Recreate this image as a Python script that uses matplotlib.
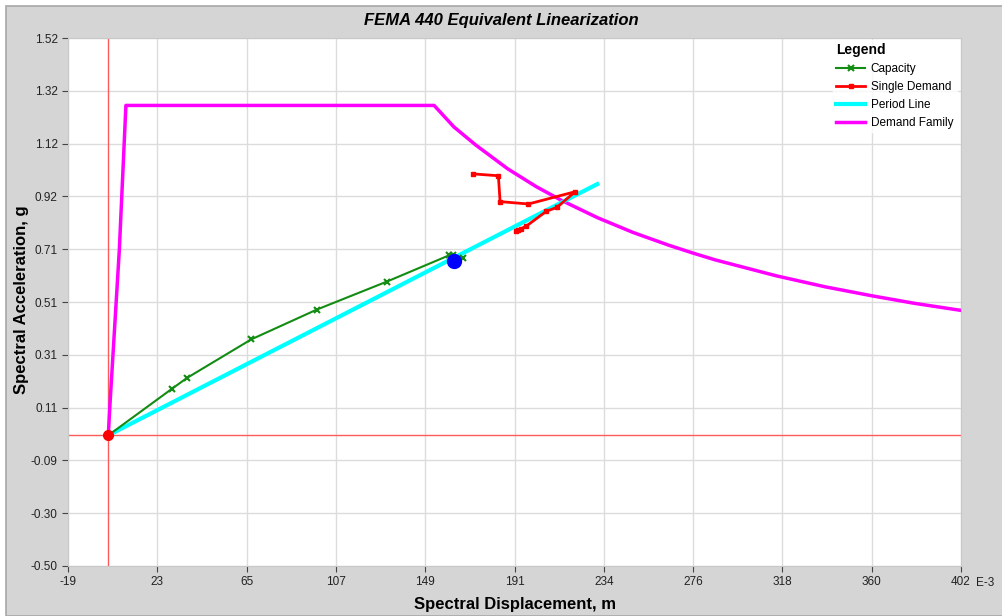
import numpy as np
import matplotlib
matplotlib.use("Agg")
import matplotlib.pyplot as plt
from matplotlib import font_manager
from matplotlib.patches import Rectangle

# ---- data (x in E-3 m, y in g) ----
capacity_x = [0.0, 30.0, 37.2, 67.4, 98.3, 131.3, 160.5, 162.5, 167.0]
capacity_y = [0.0, 0.178, 0.220, 0.367, 0.481, 0.588, 0.688, 0.690, 0.677]

demand_x = [172.1, 183.9, 184.7, 198.1, 220.1, 211.5, 206.5, 197.0, 192.0, 194.5, 193.0]
demand_y = [1.000, 0.993, 0.894, 0.885, 0.932, 0.872, 0.857, 0.800, 0.780, 0.790, 0.784]

period_x = [0.0, 230.5]
period_y = [0.0, 0.961]

family_x = [0.0, 0.8, 5.2, 8.3, 153.6, 162.9, 173.0, 188.2, 201.8, 213.6, 230.5,
            247.4, 264.3, 276.1, 286.2, 315.0, 338.0, 360.5, 380.0, 401.9]
family_y = [0.0, 0.12, 0.71, 1.262, 1.262, 1.180, 1.112, 1.020, 0.951, 0.899, 0.833,
            0.776, 0.727, 0.696, 0.671, 0.610, 0.568, 0.533, 0.505, 0.478]

perf_point = (162.9, 0.668)

x_ticklabels = ["-19", "23", "65", "107", "149", "191", "234", "276", "318", "360", "402"]
y_ticklabels = ["-0.50", "-0.30", "-0.09", "0.11", "0.31", "0.51", "0.71", "0.92", "1.12", "1.32", "1.52"]

names = {f.name for f in font_manager.fontManager.ttflist}
narrow = "Liberation Sans Narrow" if "Liberation Sans Narrow" in names else "Liberation Sans"
plt.rcParams["font.family"] = [narrow, "DejaVu Sans"]

fig = plt.figure(figsize=(10.02, 6.16), dpi=100, facecolor="white")
# grey panel with a thin white strip on the top / left
panel = Rectangle((6 / 1002, 0), 1, (616 - 6) / 616, transform=fig.transFigure,
                  facecolor="#d5d5d5", edgecolor="#a8a8a8", lw=1.2, zorder=-10)
fig.add_artist(panel)

ax = fig.add_axes([68 / 1002, 50 / 616, 893 / 1002, 528 / 616])
ax.set_zorder(1)
ax.set_facecolor("white")

ax.set_xlim(-19, 402)
ax.set_ylim(-0.5, 1.52)
ax.set_xticks(np.linspace(-19, 402, 11))
ax.set_xticklabels(x_ticklabels)
ax.set_yticks(np.linspace(-0.5, 1.52, 11))
ax.set_yticklabels(y_ticklabels, family="Liberation Sans")
ax.tick_params(labelsize=8.5, length=4, color="#444444", labelcolor="#222222")
ax.grid(True, color="#dcdcdc", lw=1)
ax.set_axisbelow(True)
for s in ax.spines.values():
    s.set_color("#c8c8c8")

# crosshair at origin
ax.axvline(0, color="#ff5a5a", lw=1, zorder=1)
ax.axhline(0, color="#ff5a5a", lw=1, zorder=1)

ax.plot(family_x, family_y, color="#ff00ff", lw=2.5, label="Demand Family", zorder=3)
ax.plot(period_x, period_y, color="#00ffff", lw=3, label="Period Line", zorder=3)
ax.plot(capacity_x, capacity_y, color="#128c12", lw=1.5, marker="x", ms=5,
        mew=1.5, label="Capacity", zorder=4)
ax.plot(demand_x, demand_y, color="#ff0000", lw=2, marker="s", ms=3.5,
        label="Single Demand", zorder=4)
ax.plot([0], [0], "o", color="#ff0000", ms=7, zorder=5)
ax.plot([perf_point[0]], [perf_point[1]], "o", color="#0000ff", ms=10, zorder=5)

handles, labels = ax.get_legend_handles_labels()
order = [2, 3, 1, 0]
leg = ax.legend([handles[i] for i in order], [labels[i] for i in order],
                title="Legend", loc="upper left", bbox_to_anchor=(0.85, 1.008),
                frameon=True, fancybox=False, edgecolor="white", facecolor="white",
                fontsize=8.5, handlelength=2.4, handletextpad=0.5, numpoints=1,
                labelspacing=0.5, borderpad=0.3, alignment="left",
                title_fontproperties={"weight": "bold", "size": 10,
                                      "family": "Liberation Sans"})

fig.text(0.5, 1 - 20 / 616, "FEMA 440 Equivalent Linearization", ha="center", va="center",
         fontsize=12, fontweight="bold", style="italic")
fig.text(515 / 1002, 1 - 605 / 616, "Spectral Displacement, m", ha="center", va="center",
         fontsize=12, fontweight="bold")
fig.text(22 / 1002, 1 - 300 / 616, "Spectral Acceleration, g", ha="center", va="center",
         rotation=90, fontsize=12, fontweight="bold", family="Liberation Sans")
fig.text(985 / 1002, 1 - 583 / 616, "E-3", ha="center", va="center", fontsize=8.5,
         color="#222222")

fig.savefig("out.png", dpi=100, facecolor=fig.get_facecolor())
